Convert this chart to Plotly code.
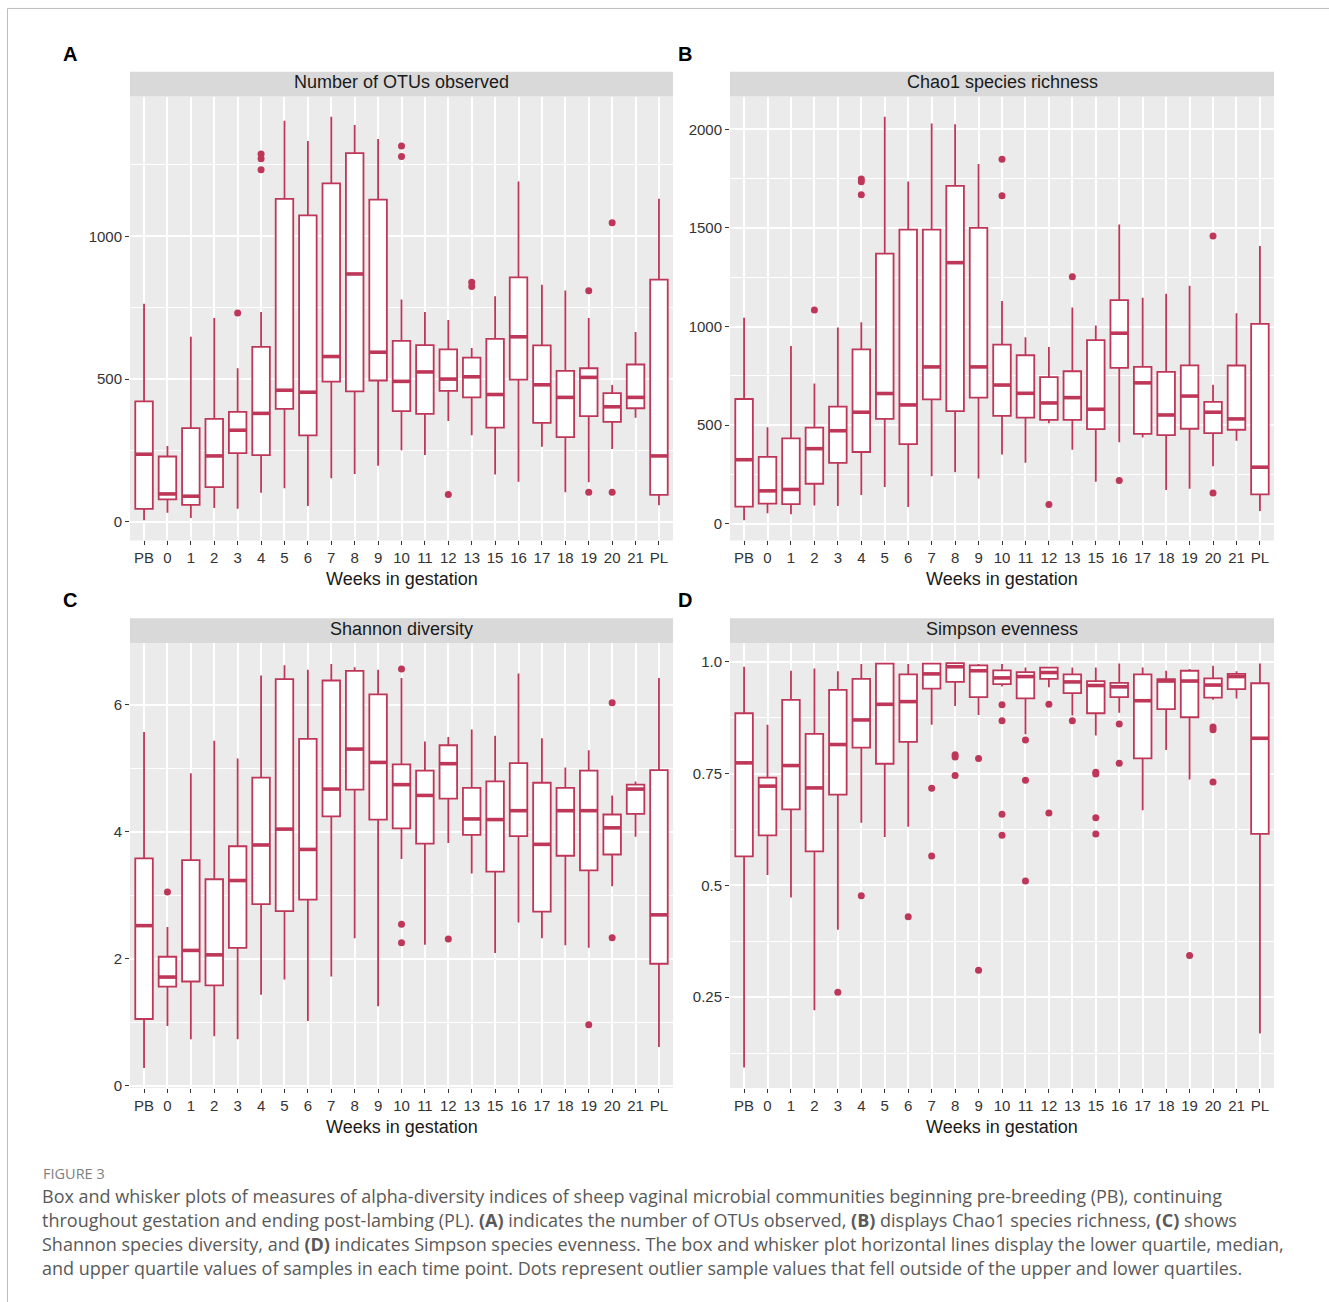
import plotly.graph_objects as go

# ---------------- data ----------------
cats = ["PB", "0", "1", "2", "3", "4", "5", "6", "7", "8", "9", "10", "11", "12",
        "13", "15", "16", "17", "18", "19", "20", "21", "PL"]

# A: Number of OTUs observed
A_lo = [6, 32, 14, 49, 46, 102, 118, 56, 153, 168, 197, 251, 234, 353, 303, 166, 141, 263, 104, 139, 255, 365, 58]
A_q1 = [46, 79, 60, 122, 241, 234, 396, 303, 491, 457, 495, 388, 378, 459, 436, 330, 498, 347, 297, 370, 350, 398, 95]
A_med = [237, 98, 90, 231, 321, 380, 461, 454, 579, 868, 594, 492, 525, 500, 508, 446, 648, 480, 436, 506, 403, 436, 231]
A_q3 = [422, 229, 328, 361, 385, 613, 1131, 1073, 1185, 1291, 1128, 634, 619, 604, 575, 641, 856, 618, 529, 538, 451, 551, 848]
A_hi = [764, 266, 648, 714, 538, 735, 1404, 1333, 1418, 1389, 1340, 779, 735, 707, 609, 790, 1192, 830, 810, 714, 479, 665, 1131]
A_out_cat = ["3", "4", "4", "4", "10", "10", "12", "13", "13", "19", "19", "20", "20"]
A_out_val = [731, 1288, 1271, 1233, 1316, 1279, 96, 839, 824, 809, 104, 1047, 104]

# B: Chao1 species richness
B_lo = [17, 52, 47, 92, 89, 145, 185, 84, 240, 260, 229, 350, 308, 509, 375, 212, 412, 437, 170, 176, 291, 420, 64]
B_q1 = [86, 101, 99, 202, 308, 363, 531, 403, 630, 571, 639, 546, 538, 526, 526, 479, 790, 455, 449, 481, 459, 476, 148]
B_med = [324, 166, 173, 380, 471, 565, 660, 602, 795, 1324, 795, 703, 661, 612, 639, 580, 966, 714, 551, 647, 565, 531, 286]
B_q3 = [632, 338, 432, 487, 593, 884, 1370, 1492, 1492, 1714, 1501, 908, 854, 743, 773, 931, 1134, 795, 770, 803, 617, 802, 1013]
B_hi = [1045, 489, 901, 711, 995, 1022, 2064, 1736, 2030, 2027, 1825, 1129, 946, 896, 1096, 1005, 1518, 1146, 1166, 1207, 704, 1067, 1408]
B_out_cat = ["2", "4", "4", "4", "10", "10", "12", "13", "16", "20", "20"]
B_out_val = [1084, 1748, 1735, 1669, 1849, 1664, 97, 1252, 218, 1459, 155]

# C: Shannon diversity
C_lo = [0.28, 0.94, 0.73, 0.78, 0.73, 1.43, 1.67, 1.02, 1.72, 2.32, 1.25, 3.57, 2.22, 3.82, 3.34, 2.09, 2.57, 2.32, 2.21, 2.17, 3.14, 3.92, 0.61]
C_q1 = [1.05, 1.56, 1.64, 1.58, 2.17, 2.86, 2.75, 2.93, 4.24, 4.66, 4.19, 4.05, 3.81, 4.52, 3.95, 3.37, 3.93, 2.74, 3.62, 3.39, 3.64, 4.28, 1.92]
C_med = [2.52, 1.71, 2.13, 2.06, 3.23, 3.79, 4.04, 3.72, 4.67, 5.30, 5.09, 4.74, 4.57, 5.07, 4.20, 4.19, 4.33, 3.80, 4.33, 4.33, 4.06, 4.67, 2.69]
C_q3 = [3.58, 2.03, 3.55, 3.25, 3.77, 4.85, 6.40, 5.46, 6.38, 6.53, 6.16, 5.06, 4.96, 5.36, 4.69, 4.79, 5.08, 4.77, 4.69, 4.96, 4.27, 4.74, 4.97]
C_hi = [5.57, 2.50, 4.92, 5.43, 5.15, 6.46, 6.62, 6.55, 6.64, 6.59, 6.55, 6.42, 5.42, 5.49, 5.61, 5.51, 6.49, 5.47, 5.01, 5.28, 4.57, 4.79, 6.42]
C_out_cat = ["0", "10", "10", "10", "12", "19", "20", "20"]
C_out_val = [3.05, 6.56, 2.54, 2.25, 2.31, 0.96, 6.03, 2.33]

# D: Simpson evenness
D_lo = [0.093, 0.523, 0.473, 0.221, 0.401, 0.640, 0.608, 0.631, 0.859, 0.901, 0.881, 0.945, 0.838, 0.943, 0.880, 0.835, 0.886, 0.668, 0.803, 0.737, 0.915, 0.918, 0.169]
D_q1 = [0.565, 0.612, 0.670, 0.576, 0.703, 0.808, 0.772, 0.821, 0.940, 0.955, 0.921, 0.950, 0.918, 0.962, 0.930, 0.885, 0.921, 0.784, 0.894, 0.876, 0.920, 0.939, 0.615]
D_med = [0.774, 0.722, 0.768, 0.718, 0.815, 0.870, 0.905, 0.911, 0.973, 0.989, 0.980, 0.964, 0.967, 0.976, 0.955, 0.947, 0.944, 0.913, 0.957, 0.957, 0.948, 0.967, 0.829]
D_q3 = [0.885, 0.741, 0.915, 0.839, 0.937, 0.962, 0.996, 0.972, 0.996, 0.997, 0.992, 0.981, 0.977, 0.987, 0.972, 0.957, 0.953, 0.972, 0.961, 0.980, 0.963, 0.973, 0.952]
D_hi = [0.989, 0.859, 0.980, 0.985, 0.979, 0.995, 0.998, 0.995, 0.998, 0.999, 0.995, 0.995, 0.987, 0.989, 0.987, 0.987, 0.996, 0.987, 0.980, 0.984, 0.991, 0.979, 0.996]
D_out_cat = ["3", "4", "6", "7", "7", "8", "8", "8", "9", "9", "10", "10", "10", "10",
             "11", "11", "11", "12", "12", "13", "15", "15", "15", "15", "16", "16", "19", "20", "20", "20"]
D_out_val = [0.261, 0.477, 0.430, 0.717, 0.566, 0.792, 0.787, 0.746, 0.784, 0.310, 0.904, 0.868, 0.659, 0.612,
             0.825, 0.735, 0.510, 0.905, 0.662, 0.868, 0.753, 0.749, 0.651, 0.615, 0.861, 0.773, 0.343, 0.854, 0.848, 0.731]

panel_titles = ["Number of OTUs observed", "Chao1 species richness", "Shannon diversity", "Simpson evenness"]
panel_letters = ["A", "B", "C", "D"]
x_title = "Weeks in gestation"

A_ticks = [0, 500, 1000]
B_ticks = [0, 500, 1000, 1500, 2000]
C_ticks = [0, 2, 4, 6]
D_ticks = [0.25, 0.5, 0.75, 1.0]
D_ticklabels = ["0.25", "0.5", "0.75", "1.0"]

caption_head = "FIGURE 3"
caption_lines = [
    "Box and whisker plots of measures of alpha-diversity indices of sheep vaginal microbial communities beginning pre-breeding (PB), continuing",
    "throughout gestation and ending post-lambing (PL). <b>(A)</b> indicates the number of OTUs observed, <b>(B)</b> displays Chao1 species richness, <b>(C)</b> shows",
    "Shannon species diversity, and <b>(D)</b> indicates Simpson species evenness. The box and whisker plot horizontal lines display the lower quartile, median,",
    "and upper quartile values of samples in each time point. Dots represent outlier sample values that fell outside of the upper and lower quartiles.",
]

# ---------------- style ----------------
W, H = 1329, 1302
COLOR = "#BE3658"
FONT = "Liberation Sans, Arial, sans-serif"
CAP_FONT = "Open Sans, sans-serif"
BOXW = 0.75


def px_x(p):
    return p / W


def px_y(p):
    return 1 - p / H


panels = [
    dict(lo=A_lo, q1=A_q1, med=A_med, q3=A_q3, hi=A_hi, oc=A_out_cat, ov=A_out_val,
         xd=[130, 673], yd=[97, 543], yr=[-65, 1489], tv=A_ticks, tt=[str(v) for v in A_ticks], minor=250),
    dict(lo=B_lo, q1=B_q1, med=B_med, q3=B_q3, hi=B_hi, oc=B_out_cat, ov=B_out_val,
         xd=[730, 1274], yd=[97, 543], yr=[-86, 2167], tv=B_ticks, tt=[str(v) for v in B_ticks], minor=250),
    dict(lo=C_lo, q1=C_q1, med=C_med, q3=C_q3, hi=C_hi, oc=C_out_cat, ov=C_out_val,
         xd=[130, 673], yd=[646, 1093], yr=[-0.036, 6.97], tv=C_ticks, tt=[str(v) for v in C_ticks], minor=1),
    dict(lo=D_lo, q1=D_q1, med=D_med, q3=D_q3, hi=D_hi, oc=D_out_cat, ov=D_out_val,
         xd=[730, 1274], yd=[646, 1093], yr=[0.047, 1.042], tv=D_ticks, tt=D_ticklabels, minor=0.125),
]

fig = go.Figure()
layout = dict(
    width=W, height=H, autosize=False,
    margin=dict(l=0, r=0, t=0, b=0),
    paper_bgcolor="white", plot_bgcolor="#EBEBEB",
    showlegend=False,
    font=dict(family=FONT, color="#333333"),
)
shapes = []
annotations = []
pos = list(range(len(cats)))

for k, p in enumerate(panels):
    sfx = "" if k == 0 else str(k + 1)
    xa, ya = "x" + sfx, "y" + sfx
    fig.add_trace(go.Box(
        x=pos, q1=p["q1"], median=p["med"], q3=p["q3"],
        lowerfence=p["lo"], upperfence=p["hi"],
        width=BOXW, whiskerwidth=0, boxpoints=False,
        fillcolor="white", line=dict(color=COLOR, width=1.8),
        xaxis=xa, yaxis=ya, hoverinfo="skip", showlegend=False,
    ))
    # thicker median bars (ggplot fatten)
    mx, my = [], []
    for i, m in zip(pos, p["med"]):
        mx += [i - BOXW / 2, i + BOXW / 2, None]
        my += [m, m, None]
    fig.add_trace(go.Scatter(x=mx, y=my, mode="lines", line=dict(color=COLOR, width=3.6),
                             xaxis=xa, yaxis=ya, hoverinfo="skip", showlegend=False))
    # outliers
    fig.add_trace(go.Scatter(x=[cats.index(c) for c in p["oc"]], y=p["ov"], mode="markers",
                             marker=dict(color=COLOR, size=7, line=dict(width=0)),
                             xaxis=xa, yaxis=ya, hoverinfo="skip", showlegend=False))

    xdom = [px_x(p["xd"][0]), px_x(p["xd"][1])]
    ydom = [px_y(p["yd"][1]), px_y(p["yd"][0])]
    layout["xaxis" + sfx] = dict(
        domain=xdom, anchor=ya, range=[-0.6, len(cats) - 0.4],
        tickmode="array", tickvals=pos, ticktext=cats,
        showgrid=True, gridcolor="white", gridwidth=2,
        ticks="outside", ticklen=4, tickwidth=1, tickcolor="#333333",
        tickfont=dict(size=15, color="#333333", family=FONT),
        zeroline=False, showline=False, fixedrange=True,
    )
    layout["yaxis" + sfx] = dict(
        domain=ydom, anchor=xa, range=p["yr"],
        tickmode="array", tickvals=p["tv"], ticktext=p["tt"],
        showgrid=True, gridcolor="white", gridwidth=2,
        minor=dict(tick0=0, dtick=p["minor"], showgrid=True, gridcolor="white", gridwidth=1),
        ticks="outside", ticklen=4, tickwidth=1, tickcolor="#333333",
        tickfont=dict(size=15, color="#333333", family=FONT),
        zeroline=False, showline=False, fixedrange=True,
    )
    plot_h = p["yd"][1] - p["yd"][0]
    strip_h = 25
    shapes.append(dict(type="rect", xref=xa + " domain", yref=ya + " domain",
                       x0=0, x1=1, y0=1, y1=1 + strip_h / plot_h,
                       fillcolor="#D9D9D9", line=dict(width=0), layer="below"))
    annotations.append(dict(text=panel_titles[k], xref=xa + " domain", yref=ya + " domain",
                            x=0.5, y=1 + (strip_h / 2 + 2) / plot_h, xanchor="center", yanchor="middle",
                            showarrow=False, font=dict(size=18, color="#1A1A1A", family=FONT)))
    # x-axis title
    annotations.append(dict(text=x_title, xref="paper", yref="paper",
                            x=(xdom[0] + xdom[1]) / 2, y=px_y(p["yd"][1] + 39),
                            xanchor="center", yanchor="middle", showarrow=False,
                            font=dict(size=18, color="#1A1A1A", family=FONT)))
    # panel letter
    annotations.append(dict(text="<b>" + panel_letters[k] + "</b>", xref="paper", yref="paper",
                            x=px_x(p["xd"][0] - 60 if k % 2 == 0 else p["xd"][0] - 45),
                            y=px_y(p["yd"][0] - 43), xanchor="center", yanchor="middle",
                            showarrow=False, font=dict(size=20, color="black", family=FONT)))

# figure frame
shapes.append(dict(type="rect", xref="paper", yref="paper",
                   x0=px_x(7.5), x1=1.05, y0=-0.05, y1=px_y(8.5),
                   line=dict(color="#BDBDBD", width=1), fillcolor="rgba(0,0,0,0)", layer="below"))

# caption
annotations.append(dict(text=caption_head, xref="paper", yref="paper", x=px_x(41), y=px_y(1179),
                        xanchor="left", yanchor="middle", showarrow=False,
                        font=dict(size=14.5, color="#808080", family=CAP_FONT)))
for j, line in enumerate(caption_lines):
    annotations.append(dict(text=line, xref="paper", yref="paper", x=px_x(40), y=px_y(1202 + 24 * j),
                            xanchor="left", yanchor="middle", showarrow=False,
                            font=dict(size=18, color="#595959", family=CAP_FONT)))

layout["shapes"] = shapes
layout["annotations"] = annotations
fig.update_layout(**layout)
fig.write_html("out.html", config={"displayModeBar": False},
               post_script="document.body.style.margin='0';document.body.style.padding='0';")
